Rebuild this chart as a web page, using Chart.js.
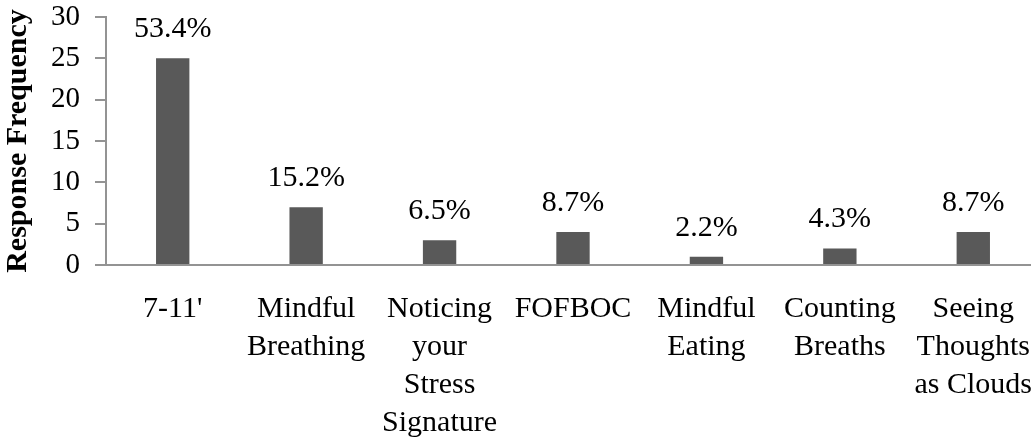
<!DOCTYPE html>
<html>
<head>
<meta charset="utf-8">
<script src="https://cdn.jsdelivr.net/npm/chart.js@4/dist/chart.umd.min.js"></script>
<style>
  html, body { margin: 0; padding: 0; background: #fff; overflow: hidden; }
  /* plot runs a little past the right edge, as in the original crop */
  #wrap { width: 1040px; height: 448px; position: relative; }
</style>
</head>
<body>
<div id="wrap"><canvas id="myChart"></canvas></div>
<script>
// categories (multi-line labels) and response counts
const labels = [
  ["7-11'"],
  ["Mindful", "Breathing"],
  ["Noticing", "your", "Stress", "Signature"],
  ["FOFBOC"],
  ["Mindful", "Eating"],
  ["Counting", "Breaths"],
  ["Seeing", "Thoughts", "as Clouds"]
];
const counts = [25, 7, 3, 4, 1, 2, 4];
const percents = ["53.4%", "15.2%", "6.5%", "8.7%", "2.2%", "4.3%", "8.7%"];
const yMin = 0, yMax = 30, yStep = 5;

const serif = "'Liberation Serif', 'Times New Roman', serif";
const axisGray = "#939393";

// draws the percentage above each bar
const pctLabels = {
  id: "pctLabels",
  afterDatasetsDraw(chart) {
    const ctx = chart.ctx;
    const meta = chart.getDatasetMeta(0);
    ctx.save();
    ctx.font = "30px " + serif;
    ctx.fillStyle = "#000";
    ctx.textAlign = "center";
    ctx.textBaseline = "alphabetic";
    meta.data.forEach((bar, i) => {
      ctx.fillText(percents[i], bar.x, bar.y - 21);
    });
    ctx.restore();
  }
};

let config = {
  type: "bar",
  data: {
    labels: labels,
    datasets: [
      {
        label: "Response Frequency",
        data: counts,
        backgroundColor: "#595959",
        borderWidth: 0,
        barPercentage: 0.25,
        categoryPercentage: 1,
      },
    ],
  },
  options: {
    responsive: true,
    maintainAspectRatio: false,
    animation: false,
    layout: { padding: 0 },
    plugins: {
      legend: { display: false },
      tooltip: { enabled: false },
    },
    scales: {
      x: {
        afterFit(scale) {
          scale.height = 183;
          scale.paddingLeft = 0;
          scale.paddingRight = 0;
        },
        grid: { display: false },
        border: { color: axisGray, width: 2 },
        ticks: {
          color: "#000",
          font: { family: serif, size: 30, lineHeight: 1.27 },
          padding: 17,
          autoSkip: false,
          maxRotation: 0,
          minRotation: 0,
        },
      },
      y: {
        min: yMin,
        max: yMax,
        afterFit(scale) {
          scale.width = 106;
          scale.paddingTop = 17;
          scale.paddingBottom = 0;
        },
        grid: {
          drawOnChartArea: false,
          drawTicks: true,
          tickLength: 11,
          color: axisGray,
          lineWidth: 2,
        },
        border: { color: axisGray, width: 2 },
        ticks: {
          stepSize: yStep,
          autoSkip: false,
          color: "#000",
          font: { family: serif, size: 29 },
          padding: 15,
        },
        title: {
          display: true,
          text: "Response Frequency",
          color: "#000",
          font: { family: serif, size: 30, weight: "bold" },
          padding: { top: 0, bottom: 0 },
        },
      },
    },
  },
  plugins: [pctLabels],
};

const mChart = new Chart(document.getElementById("myChart"), config);
</script>
</body>
</html>
